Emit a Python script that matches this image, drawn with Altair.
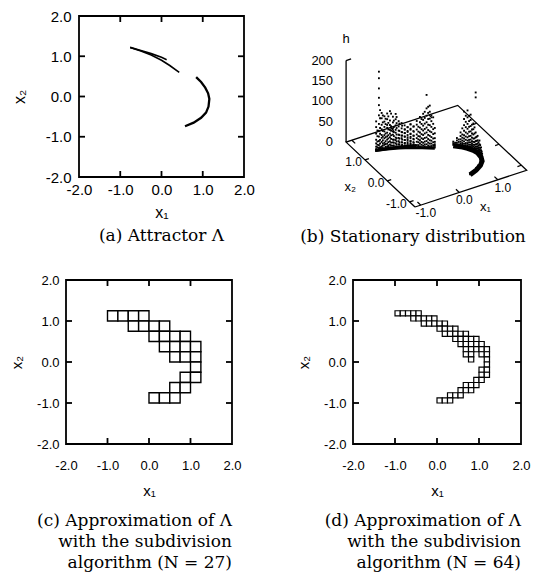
import altair as alt
import pandas as pd

SANS = "Liberation Sans"
SERIF = "DejaVu Serif"

# ---------------- shared axis values ----------------
TICK_VALUES = [-2, -1, 0, 1, 2]
INNER_TICKS = [-1, 0, 1]

# ---------------- (a) attractor branches ----------------
ARM_A_X1 = [-0.76, -0.5, -0.25, 0.0, 0.2, 0.43]
ARM_A_X2 = [1.22, 1.13, 1.03, 0.90, 0.77, 0.60]
ARM_B_X1 = [-0.76, -0.5, -0.25, 0.0, 0.125]
ARM_B_X2 = [1.22, 1.145, 1.065, 0.975, 0.915]
ARM_R_X1 = [0.84, 0.96, 1.06, 1.13, 1.16, 1.14, 1.08, 0.96, 0.78, 0.57]
ARM_R_X2 = [0.48, 0.36, 0.22, 0.08, -0.06, -0.25, -0.40, -0.53, -0.65, -0.74]

# ---------------- (c) boxes, N = 27 ----------------
C_SIZE = 0.25
C_ROW_Y = [1.0, 0.75, 0.5, 0.25, 0.0, -0.25, -0.5, -0.75, -1.0]
C_ROW_X = [
    [-1.0, -0.75, -0.5, -0.25],
    [-0.5, -0.25, 0.0, 0.25],
    [0.0, 0.25, 0.5, 0.75],
    [0.25, 0.5, 0.75, 1.0],
    [0.5, 0.75, 1.0],
    [1.0],
    [0.75, 1.0],
    [0.5, 0.75],
    [0.0, 0.25, 0.5],
]

# ---------------- (d) boxes, N = 64 ----------------
D_SIZE = 0.125
D_ROW_Y = [1.125, 1.0, 0.875, 0.75, 0.625, 0.5, 0.375, 0.25, 0.125, 0.0,
           -0.125, -0.25, -0.375, -0.5, -0.625, -0.75, -0.875, -1.0]
D_ROW_X = [
    [-1.0, -0.875, -0.75, -0.625, -0.5],
    [-0.625, -0.5, -0.375, -0.25, -0.125],
    [-0.375, -0.25, -0.125, 0.0, 0.125],
    [0.0, 0.125, 0.25, 0.375],
    [0.125, 0.25, 0.375, 0.5, 0.625],
    [0.375, 0.5, 0.625, 0.75, 0.875],
    [0.5, 0.625, 0.75, 0.875, 1.0],
    [0.625, 0.75, 0.875, 1.0, 1.125],
    [0.625, 0.75, 1.0, 1.125],
    [0.75, 1.125],
    [1.125],
    [1.0, 1.125],
    [1.0, 1.125],
    [0.875, 1.0],
    [0.625, 0.75, 0.875],
    [0.5, 0.625, 0.75],
    [0.25, 0.375, 0.5],
    [0.0, 0.125, 0.25],
]

# ---------------- (b) stationary distribution ----------------
B_X1_RANGE = [-1.15, 1.75]
B_X2_RANGE = [-1.24, 1.85]
B_H_TICKS = [0, 50, 100, 150, 200]
B_X_TICKS = [-1.0, 0.0, 1.0]

# samples above the upper branch: station (x1, x2) and the heights h seen there
UP_X1 = [-0.74, -0.68, -0.62, -0.56, -0.50, -0.44, -0.38, -0.32, -0.26, -0.20,
         -0.14, -0.08, -0.02, 0.04, 0.10, 0.16, 0.22, 0.28, 0.34, 0.40]
UP_X2 = [1.21, 1.19, 1.17, 1.15, 1.13, 1.11, 1.08, 1.06, 1.03, 1.00,
         0.97, 0.94, 0.91, 0.87, 0.84, 0.80, 0.76, 0.71, 0.67, 0.62]
UP_H = [
    [3, 9, 17, 26, 41, 57, 71],
    [5, 12, 22, 33, 47, 64, 85, 110, 128, 151, 176, 192],
    [4, 8, 19, 29, 36, 50, 61, 77, 90],
    [2, 11, 16, 27, 35, 44, 55, 68, 81],
    [6, 13, 23, 31, 40, 52, 59, 73, 87],
    [3, 10, 18, 28, 37, 46, 58, 69, 92],
    [7, 15, 22, 34, 42, 49, 64, 78],
    [4, 12, 20, 26, 38, 45, 56, 71, 84],
    [2, 9, 17, 25, 33, 43, 53, 66],
    [6, 14, 24, 30, 39, 48, 61],
    [3, 11, 19, 28, 36, 45, 55],
    [5, 13, 21, 31, 41, 50],
    [2, 8, 16, 26, 34, 46, 57],
    [4, 12, 20, 29, 39, 52],
    [6, 14, 23, 32, 44, 56, 65],
    [3, 10, 18, 27, 37, 49, 62, 75],
    [5, 12, 21, 31, 42, 54, 68, 83],
    [2, 9, 17, 26, 38, 50, 63, 79, 97, 130],
    [4, 11, 19, 30, 41, 56, 72, 89, 104],
    [3, 8, 15, 24, 35, 47, 60, 76],
]
UP2_X1 = [-0.71, -0.65, -0.59, -0.53, -0.47, -0.41, -0.35, -0.29, -0.23, -0.17,
          -0.11, -0.05, 0.01, 0.07, 0.13, 0.19, 0.25, 0.31, 0.37, 0.43]
UP2_X2 = [1.205, 1.19, 1.17, 1.15, 1.13, 1.11, 1.09, 1.07, 1.05, 1.03,
          1.01, 0.99, 0.965, 0.94, 0.82, 0.78, 0.74, 0.69, 0.65, 0.60]
UP2_H = [
    [1, 7, 13, 21, 34, 48],
    [2, 6, 15, 24, 39, 53, 77, 97],
    [3, 9, 14, 22, 31, 45, 66, 83],
    [1, 5, 12, 19, 29, 38, 61, 74],
    [4, 8, 16, 25, 33, 47, 63, 79],
    [2, 7, 14, 23, 32, 43, 54, 85],
    [1, 6, 13, 20, 29, 39, 51, 67],
    [3, 8, 15, 23, 32, 48, 60, 75],
    [2, 7, 12, 21, 30, 40, 58],
    [1, 5, 11, 18, 28, 36, 52],
    [3, 9, 16, 24, 33, 42],
    [2, 6, 14, 22, 35, 47],
    [1, 7, 12, 19, 29, 40, 53],
    [3, 9, 17, 25, 36, 47],
    [2, 6, 13, 20, 28, 39, 51],
    [1, 7, 14, 23, 33, 45, 58, 70],
    [3, 8, 15, 24, 35, 46, 59, 73, 88],
    [2, 6, 13, 22, 32, 44, 57, 71, 86, 101],
    [1, 5, 11, 18, 27, 39, 52, 66, 80],
    [2, 6, 10, 16, 25, 37, 50],
]

# samples above the right (crescent) branch
RT_X1 = [0.84, 0.90, 0.96, 1.01, 1.06, 1.10, 1.13, 1.15, 1.16, 1.15, 1.14, 1.08, 0.96, 0.78, 0.57]
RT_X2 = [0.48, 0.42, 0.36, 0.29, 0.22, 0.15, 0.08, 0.01, -0.06, -0.16, -0.25, -0.40, -0.53, -0.65, -0.74]
RT_H = [
    [2, 6, 10],
    [3, 8, 14, 20],
    [2, 7, 12, 18, 26, 35],
    [4, 9, 15, 22, 30, 41, 55, 70, 88],
    [3, 8, 13, 19, 27, 36, 48, 60, 76, 93],
    [2, 6, 11, 17, 24, 33, 44, 57, 72, 85],
    [4, 9, 14, 21, 29, 39, 52, 66],
    [3, 7, 12, 18, 26, 35, 47, 133, 145],
    [2, 6, 11, 16, 23, 31, 42],
    [3, 8, 13, 19, 27, 36],
    [2, 6, 11, 17, 24],
    [3, 7, 12, 18],
    [2, 6, 10],
    [2, 5],
    [1, 3],
]
RT2_X1 = [0.87, 0.93, 0.985, 1.035, 1.08, 1.115, 1.14, 1.155, 1.155, 1.145, 1.11, 1.02, 0.87]
RT2_X2 = [0.45, 0.39, 0.325, 0.255, 0.185, 0.115, 0.045, -0.025, -0.11, -0.20, -0.33, -0.47, -0.59]
RT2_H = [
    [1, 4, 8],
    [2, 5, 11, 17],
    [1, 6, 10, 16, 23, 31, 46],
    [3, 7, 12, 20, 28, 38, 51, 64, 79],
    [2, 5, 10, 16, 22, 31, 42, 54, 68, 81],
    [1, 6, 10, 15, 21, 30, 40, 50, 62],
    [2, 5, 9, 15, 22, 31, 43, 58],
    [1, 4, 9, 14, 20, 28, 38],
    [2, 6, 10, 15, 21, 29],
    [1, 5, 9, 14, 20, 27],
    [2, 5, 9, 14, 19],
    [1, 4, 8, 12],
    [1, 3, 6],
]

# ---------------- styling / layout constants ----------------
TL = 6            # inward tick length
FRAME_W = 1.8
LABEL_EXPR = "replace(format(datum.value, '.1f'), '\u2212', '-')"

# camera of the 3-D panel (screen pixels of the reference)
P0 = (415.0, 207.0)
E1 = (38.5, -12.66)
E2 = (-22.3, -21.0)
EH = 0.408
B_VIEW_X = [296, 530]
B_VIEW_Y = [16, 177]


def axes(label_size, title_size, xlp, xtp, ylp, ytp):
    common = dict(values=TICK_VALUES, labelExpr=LABEL_EXPR, ticks=False, domain=False,
                  grid=False, labelFont=SANS, labelFontSize=label_size, labelColor="black",
                  labelFlush=False, labelOverlap=False, titleFont=SANS,
                  titleFontSize=title_size, titleFontWeight="normal", titleColor="black")
    xa = alt.Axis(title="x₁", labelPadding=xlp, titlePadding=xtp, **common)
    ya = alt.Axis(title="x₂", labelPadding=ylp, titlePadding=ytp, **common)
    return xa, ya


def frame_ticks(width, height):
    tdf = pd.DataFrame({"t": INNER_TICKS})
    base = alt.Chart(tdf).mark_rule(color="black", strokeWidth=FRAME_W)
    sc = alt.Scale(domain=[-2, 2], nice=False)
    return [
        base.encode(x=alt.X("t:Q", scale=sc), y=alt.value(height), y2=alt.value(height - TL)),
        base.encode(x=alt.X("t:Q", scale=sc), y=alt.value(0), y2=alt.value(TL)),
        base.encode(y=alt.Y("t:Q", scale=sc), x=alt.value(0), x2=alt.value(TL)),
        base.encode(y=alt.Y("t:Q", scale=sc), x=alt.value(width), x2=alt.value(width - TL)),
    ]


def caption(lines, anchor, offset, line_height=21):
    return alt.TitleParams(lines, orient="bottom", anchor=anchor, frame="group",
                           align="right" if anchor == "end" else "center",
                           font=SERIF, fontSize=17, fontWeight="normal", color="black",
                           lineHeight=line_height, offset=offset)


def spacer(w, h):
    return alt.Chart(pd.DataFrame({"v": [0]})).mark_point(opacity=0).properties(
        width=w, height=h, view=alt.ViewBackground(stroke="transparent"))


FRAME_VIEW = alt.ViewBackground(stroke="black", strokeWidth=FRAME_W, fill="white")
SC = alt.Scale(domain=[-2, 2], nice=False)

# ---------------- panel (a) ----------------
rows = []
for name, xs, ys in [("A", ARM_A_X1, ARM_A_X2), ("B", ARM_B_X1, ARM_B_X2), ("R", ARM_R_X1, ARM_R_X2)]:
    for i, (u, v) in enumerate(zip(xs, ys)):
        rows.append({"x1": u, "x2": v, "strand": name, "ord": i})
df_a = pd.DataFrame(rows)
xa, ya = axes(15, 16, 5, 7, 8, 18)
lines_a = alt.Chart(df_a[df_a.strand != "R"]).mark_line(color="black", strokeWidth=1.6).encode(
    x=alt.X("x1:Q", scale=SC, axis=xa),
    y=alt.Y("x2:Q", scale=SC, axis=ya),
    detail="strand:N", order="ord:Q")
line_r = alt.Chart(df_a[df_a.strand == "R"]).mark_line(color="black", strokeWidth=2.3).encode(
    x=alt.X("x1:Q", scale=SC), y=alt.Y("x2:Q", scale=SC), order="ord:Q")
chart_a = alt.layer(lines_a, line_r, *frame_ticks(165, 161)).properties(
    width=165, height=161, view=FRAME_VIEW,
    title=caption("(a) Attractor Λ", "middle", 8))


# ---------------- panels (c), (d) ----------------
def box_panel(size, row_y, row_x, width, height, cap, stroke_w):
    recs = []
    for y0, xs in zip(row_y, row_x):
        for x0 in xs:
            recs.append({"bx": x0, "bx2": x0 + size, "by": y0, "by2": y0 + size})
    df = pd.DataFrame(recs)
    xax, yax = axes(13, 15, 15.5, 10.5, 7, 12)
    rects = alt.Chart(df).mark_rect(fill="white", stroke="black", strokeWidth=stroke_w).encode(
        x=alt.X("bx:Q", scale=SC, axis=xax), x2="bx2:Q",
        y=alt.Y("by:Q", scale=SC, axis=yax), y2="by2:Q")
    return alt.layer(rects, *frame_ticks(width, height)).properties(
        width=width, height=height, view=FRAME_VIEW, title=caption(cap, "end", 15))


chart_c = box_panel(C_SIZE, C_ROW_Y, C_ROW_X, 166, 164,
                    ["(c) Approximation of Λ", "with the subdivision", "algorithm (N = 27)"], 1.4)
chart_d = box_panel(D_SIZE, D_ROW_Y, D_ROW_X, 168, 164,
                    ["(d) Approximation of Λ", "with the subdivision", "algorithm (N = 64)"], 1.2)


# ---------------- panel (b) ----------------
def proj(x1, x2, h):
    a = x1 - B_X1_RANGE[0]
    b = x2 - B_X2_RANGE[0]
    return P0[0] + a * E1[0] + b * E2[0], P0[1] + a * E1[1] + b * E2[1] - h * EH


x1lo, x1hi = B_X1_RANGE
x2lo, x2hi = B_X2_RANGE
segs = {
    "box": [(x1lo, x2lo, 0), (x1hi, x2lo, 0), (x1hi, x2hi, 0), (x1lo, x2hi, 0), (x1lo, x2lo, 0)],
    "hax": [(x1lo, x2hi, 0), (x1lo, x2hi, B_H_TICKS[-1])],
    "htick": [(x1lo, x2hi, B_H_TICKS[-1]), (x1lo + 0.13, x2hi, B_H_TICKS[-1])],
}
for t in B_X_TICKS:
    segs[f"t2a{t}"] = [(x1lo, t, 0), (x1lo + 0.1, t, 0)]
    segs[f"t2b{t}"] = [(x1hi, t, 0), (x1hi - 0.1, t, 0)]
    segs[f"t1a{t}"] = [(t, x2lo, 0), (t, x2lo + 0.15, 0)]
    segs[f"t1b{t}"] = [(t, x2hi, 0), (t, x2hi - 0.15, 0)]
seg_rows = []
for k, pts in segs.items():
    for i, p in enumerate(pts):
        sx, sy = proj(*p)
        seg_rows.append({"seg": k, "ord": i, "sx": sx, "sy": sy})
df_seg = pd.DataFrame(seg_rows)

base_rows = []
for name, xs, ys in [("A", ARM_A_X1, ARM_A_X2), ("B", ARM_B_X1, ARM_B_X2), ("R", ARM_R_X1, ARM_R_X2)]:
    for i, (u, v) in enumerate(zip(xs, ys)):
        sx, sy = proj(u, v, 0)
        base_rows.append({"seg": name, "ord": i, "sx": sx, "sy": sy})
df_base = pd.DataFrame(base_rows)

pt_rows = []
for xs, ys, hs in [(UP_X1, UP_X2, UP_H), (UP2_X1, UP2_X2, UP2_H),
                   (RT_X1, RT_X2, RT_H), (RT2_X1, RT2_X2, RT2_H)]:
    for u, v, hl in zip(xs, ys, hs):
        for h in hl:
            sx, sy = proj(u, v, h)
            pt_rows.append({"sx": sx, "sy": sy})
df_pts = pd.DataFrame(pt_rows)


def label_df(points, texts):
    out = []
    for p, s in zip(points, texts):
        sx, sy = proj(*p)
        out.append({"sx": sx, "sy": sy, "txt": s})
    return pd.DataFrame(out)


df_hlab = label_df([(x1lo, x2hi, h) for h in B_H_TICKS], [str(h) for h in B_H_TICKS])
df_x2lab = label_df([(x1lo, t, 0) for t in B_X_TICKS], [f"{t:.1f}" for t in B_X_TICKS])
df_x1lab = label_df([(t, x2lo, 0) for t in B_X_TICKS], [f"{t:.1f}" for t in B_X_TICKS])
df_th = label_df([(x1lo, x2hi, B_H_TICKS[-1])], ["h"])
df_tx2 = label_df([(x1lo, 0.0, 0)], ["x₂"])
df_tx1 = label_df([(0.5, x2lo, 0)], ["x₁"])

XB = alt.X("sx:Q", scale=alt.Scale(domain=B_VIEW_X, nice=False, zero=False), axis=None)
YB = alt.Y("sy:Q", scale=alt.Scale(domain=B_VIEW_Y, nice=False, zero=False, reverse=True), axis=None)


def btext(df, **kw):
    return alt.Chart(df).mark_text(font=SANS, color="black", baseline="middle", **kw).encode(
        x=XB, y=YB, text="txt:N")


b_frame = alt.Chart(df_seg).mark_line(color="black", strokeWidth=1.3).encode(
    x=XB, y=YB, detail="seg:N", order="ord:Q")
b_base_up = alt.Chart(df_base[df_base.seg != "R"]).mark_line(color="black", strokeWidth=3).encode(
    x=XB, y=YB, detail="seg:N", order="ord:Q")
b_base_r = alt.Chart(df_base[df_base.seg == "R"]).mark_line(color="black", strokeWidth=5).encode(
    x=XB, y=YB, order="ord:Q")
b_pts = alt.Chart(df_pts).mark_square(size=3.5, color="black", opacity=1).encode(x=XB, y=YB)

chart_b = alt.layer(
    b_frame, b_base_up, b_base_r, b_pts,
    btext(df_hlab, align="right", dx=-13, fontSize=13),
    btext(df_x2lab, align="right", dx=-3, dy=2, fontSize=12),
    btext(df_x1lab, align="center", dx=5, dy=8, fontSize=12),
    btext(df_th, align="center", dy=-22, fontSize=13),
    btext(df_tx2, align="center", dx=-37, dy=6, fontSize=13),
    btext(df_tx1, align="center", dx=7, dy=21, fontSize=13),
).properties(
    width=B_VIEW_X[1] - B_VIEW_X[0], height=B_VIEW_Y[1] - B_VIEW_Y[0],
    view=alt.ViewBackground(stroke="transparent"),
    title=caption("(b) Stationary distribution", "middle", 10))

row1 = alt.hconcat(spacer(13, 161), chart_a, spacer(52, 161), chart_b, spacing=0, bounds="flush")
row2 = alt.hconcat(chart_c, spacer(121, 164), chart_d, spacing=0, bounds="flush")
chart = alt.vconcat(row1, row2, spacing=264, bounds="flush").properties(
    padding={"left": 0, "top": 0, "right": 0, "bottom": 0},
    background="white")

chart.save("out.html", embed_options={"renderer": "svg", "actions": False})
